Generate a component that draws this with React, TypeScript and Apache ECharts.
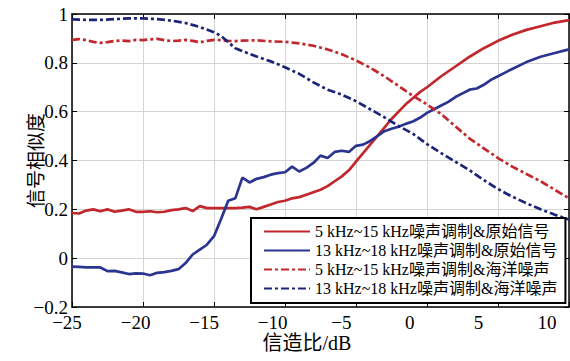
import React, { useEffect, useRef } from "react";
import * as echarts from "echarts";

const seriesNames = [
  "5 kHz~15 kHz噪声调制&原始信号",
  "13 kHz~18 kHz噪声调制&原始信号",
  "5 kHz~15 kHz噪声调制&海洋噪声",
  "13 kHz~18 kHz噪声调制&海洋噪声",
];

const xTicks = [-25, -20, -15, -10, -5, 0, 5, 10];
const yTicks = [-0.2, 0, 0.2, 0.4, 0.6, 0.8, 1];

const redSolidX = [
  -25, -24.5, -24, -23.5, -23, -22.5, -22, -21.5, -21, -20.5, -20, -19.5, -19, -18.5, -18, -17.5, -17,
  -16.5, -16, -15.5, -15, -14.5, -14, -13.5, -13, -12.5, -12, -11.5, -11, -10.5, -10, -9.5, -9, -8.5,
  -8, -7.5, -7, -6.5, -6, -5.5, -5, -4.5, -4, -3.5, -3, -2.5, -2, -1.5, -1, -0.5, 0, 1, 2, 3, 4, 5, 6,
  7, 8, 9, 10,
];
const redSolidY = [
  0.185, 0.183, 0.195, 0.2, 0.192, 0.2, 0.19, 0.195, 0.2, 0.19, 0.19, 0.192, 0.188, 0.19, 0.197, 0.2,
  0.205, 0.193, 0.213, 0.205, 0.205, 0.205, 0.205, 0.205, 0.207, 0.21, 0.2, 0.21, 0.22, 0.23, 0.235,
  0.245, 0.25, 0.26, 0.27, 0.28, 0.295, 0.315, 0.335, 0.36, 0.395, 0.43, 0.465, 0.5, 0.535, 0.57, 0.6,
  0.63, 0.655, 0.68, 0.7, 0.745, 0.785, 0.825, 0.86, 0.89, 0.915, 0.935, 0.95, 0.965, 0.975,
];

const blueSolidX = [
  -25, -24.5, -24, -23.5, -23, -22.5, -22, -21.5, -21, -20.5, -20, -19.5, -19, -18.5, -18, -17.5, -17,
  -16.5, -16, -15.5, -15, -14.5, -14, -13.5, -13, -12.5, -12, -11.5, -11, -10.5, -10, -9.5, -9, -8.5,
  -8, -7.5, -7, -6.5, -6, -5.5, -5, -4.5, -4, -3.5, -3, -2.5, -2, -1.5, -1, -0.5, 0, 0.5, 1, 1.5, 2,
  2.5, 3, 3.5, 4, 4.5, 5, 5.5, 6, 7, 8, 9, 10,
];
const blueSolidY = [
  -0.035, -0.036, -0.038, -0.038, -0.038, -0.053, -0.052, -0.058, -0.065, -0.062, -0.063, -0.07, -0.06,
  -0.057, -0.052, -0.045, -0.02, 0.015, 0.035, 0.055, 0.09, 0.16, 0.235, 0.245, 0.33, 0.31, 0.325,
  0.332, 0.342, 0.348, 0.352, 0.375, 0.355, 0.37, 0.39, 0.42, 0.41, 0.435, 0.44, 0.435, 0.46, 0.465,
  0.48, 0.5, 0.52, 0.53, 0.538, 0.55, 0.56, 0.575, 0.595, 0.61, 0.625, 0.64, 0.66, 0.675, 0.69, 0.695,
  0.71, 0.73, 0.745, 0.76, 0.775, 0.803, 0.825, 0.84, 0.855,
];

const redDashX = [
  -25, -24.5, -24, -23.5, -23, -22.5, -22, -21.5, -21, -20.5, -20, -19.5, -19, -18.5, -18, -17.5, -17,
  -16.5, -16, -15.5, -15, -14.5, -14, -13.5, -13, -12, -11, -10, -9, -8, -7, -6, -5, -4, -3, -2, -1, 0,
  1, 2, 3, 4, 5, 6, 7, 8, 9, 10,
];
const redDashY = [
  0.894, 0.897, 0.893, 0.886, 0.882, 0.885, 0.89, 0.891, 0.889, 0.894, 0.893, 0.896, 0.898, 0.893,
  0.889, 0.891, 0.894, 0.89, 0.884, 0.89, 0.894, 0.893, 0.89, 0.889, 0.891, 0.892, 0.888, 0.886, 0.88,
  0.87, 0.855, 0.835, 0.81, 0.78, 0.745, 0.705, 0.665, 0.63, 0.59, 0.54, 0.49, 0.45, 0.41, 0.375, 0.345,
  0.315, 0.28, 0.245,
];

const blueDashX = [
  -25, -24, -23, -22, -21, -20, -19, -18, -17, -16, -15, -14.5, -14, -13.5, -13, -12, -11, -10, -9, -8,
  -7, -6, -5, -4, -3, -2, -1, 0, 1, 2, 3, 4, 5, 6, 7, 8, 9, 10,
];
const blueDashY = [
  0.978, 0.976, 0.976, 0.979, 0.982, 0.982, 0.979, 0.973, 0.963, 0.947, 0.925, 0.91, 0.885, 0.86, 0.848,
  0.826, 0.806, 0.782, 0.755, 0.72, 0.69, 0.67, 0.643, 0.61, 0.577, 0.541, 0.51, 0.467, 0.43, 0.395,
  0.36, 0.32, 0.283, 0.252, 0.225, 0.2, 0.178, 0.158,
];

const pairs = (xs: number[], ys: number[]) => xs.map((x, i) => [x, ys[i]]);

const FONT = "'Liberation Serif', 'Noto Sans CJK SC', serif";
const RED = "#c1272d";
const BLUE = "#2b3490";
const NAVY = "#1c2478";
const DASH = [8, 3, 3, 3];
const LW = 2.7;

const minusFmt = (v: number) => {
  const r = Math.round(v * 10) / 10;
  const s = String(r);
  return s.replace("-", "\u2212");
};

export default function App() {
  const ref = useRef<HTMLDivElement>(null);
  useEffect(() => {
    if (!ref.current) return;
    const chart = echarts.init(ref.current, undefined, { renderer: "svg" });
    const xMin = xTicks[0];
    const xMax = xTicks[xTicks.length - 1];
    const yMin = yTicks[0];
    const yMax = yTicks[yTicks.length - 1];
    const axisLineStyle = { color: "#000", width: 1.5 };
    const gridLine = { show: true, lineStyle: { color: "#d4d4d4", width: 1 } };
    chart.setOption({
      animation: false,
      backgroundColor: "#fff",
      grid: [
        { left: 72, right: 1, top: 14, bottom: 54 },
        { left: 67, right: 23, top: 14, bottom: 54 },
      ],
      xAxis: [
        {
          type: "value",
          gridIndex: 0,
          position: "bottom",
          min: xMin,
          max: xMax,
          interval: 5,
          axisLine: { show: true, onZero: false, lineStyle: axisLineStyle },
          axisTick: { show: true, inside: true, length: 5, lineStyle: { color: "#000" } },
          axisLabel: { show: false },
          splitLine: gridLine,
        },
        {
          type: "value",
          gridIndex: 0,
          position: "top",
          min: xMin,
          max: xMax,
          interval: 5,
          axisLine: { show: true, onZero: false, lineStyle: axisLineStyle },
          axisTick: { show: true, inside: true, length: 5, lineStyle: { color: "#000" } },
          axisLabel: { show: false },
          splitLine: { show: false },
        },
        {
          type: "value",
          gridIndex: 1,
          position: "bottom",
          min: xMin,
          max: xMax,
          interval: 5,
          axisLine: { show: false, onZero: false },
          axisTick: { show: false },
          splitLine: { show: false },
          axisLabel: {
            show: true,
            margin: 7,
            color: "#000",
            fontSize: 19,
            lineHeight: 16,
            fontFamily: FONT,
            formatter: (v: number) => minusFmt(v),
          },
          name: "信造比/dB",
          nameLocation: "middle",
          nameGap: 26,
          nameMoveOverlap: false,
          nameTextStyle: { color: "#000", fontSize: 20, fontFamily: FONT },
        },
      ],
      yAxis: [
        {
          type: "value",
          gridIndex: 0,
          position: "left",
          min: yMin,
          max: yMax,
          interval: 0.2,
          axisLine: { show: true, onZero: false, lineStyle: axisLineStyle },
          axisTick: { show: true, inside: true, length: 5, lineStyle: { color: "#000" } },
          axisLabel: {
            show: true,
            margin: 4,
            color: "#000",
            fontSize: 19,
            lineHeight: 14,
            fontFamily: FONT,
            formatter: (v: number) => minusFmt(v),
          },
          splitLine: gridLine,
          name: "信号相似度",
          nameLocation: "middle",
          nameGap: 26,
          nameMoveOverlap: false,
          nameTextStyle: { color: "#000", fontSize: 19, fontFamily: FONT },
        },
        {
          type: "value",
          gridIndex: 0,
          position: "right",
          min: yMin,
          max: yMax,
          interval: 0.2,
          axisLine: { show: true, onZero: false, lineStyle: axisLineStyle },
          axisTick: { show: true, inside: true, length: 5, lineStyle: { color: "#000" } },
          axisLabel: { show: false },
          splitLine: { show: false },
        },
        {
          type: "value",
          gridIndex: 1,
          min: yMin,
          max: yMax,
          show: false,
        },
      ],
      legend: {
        orient: "vertical",
        left: 251,
        top: 218,
        itemWidth: 46,
        itemHeight: 14,
        itemGap: 0,
        padding: [4, 8, 5, 12],
        borderColor: "#000",
        borderWidth: 2,
        backgroundColor: "#fff",
        data: seriesNames,
        itemStyle: { color: "transparent", borderColor: "transparent", borderWidth: 0, opacity: 0 },
        textStyle: { color: "#000", fontSize: 16, lineHeight: 19, fontFamily: FONT },
      },
      series: [
        {
          name: seriesNames[0],
          type: "line",
          xAxisIndex: 0,
          yAxisIndex: 0,
          showSymbol: false,
          symbol: "none",
          data: pairs(redSolidX, redSolidY),
          lineStyle: { color: RED, width: LW },
          itemStyle: { color: RED },
        },
        {
          name: seriesNames[1],
          type: "line",
          xAxisIndex: 0,
          yAxisIndex: 0,
          showSymbol: false,
          symbol: "none",
          data: pairs(blueSolidX, blueSolidY),
          lineStyle: { color: BLUE, width: LW },
          itemStyle: { color: BLUE },
        },
        {
          name: seriesNames[2],
          type: "line",
          xAxisIndex: 0,
          yAxisIndex: 0,
          showSymbol: false,
          symbol: "none",
          data: pairs(redDashX, redDashY),
          lineStyle: { color: RED, width: LW, type: DASH },
          itemStyle: { color: RED },
        },
        {
          name: seriesNames[3],
          type: "line",
          xAxisIndex: 0,
          yAxisIndex: 0,
          showSymbol: false,
          symbol: "none",
          data: pairs(blueDashX, blueDashY),
          lineStyle: { color: NAVY, width: LW, type: DASH },
          itemStyle: { color: NAVY },
        },
      ],
    });
    return () => chart.dispose();
  }, []);
  return <div ref={ref} style={{ width: 570, height: 361, position: "absolute", left: 0, top: 0 }} />;
}
